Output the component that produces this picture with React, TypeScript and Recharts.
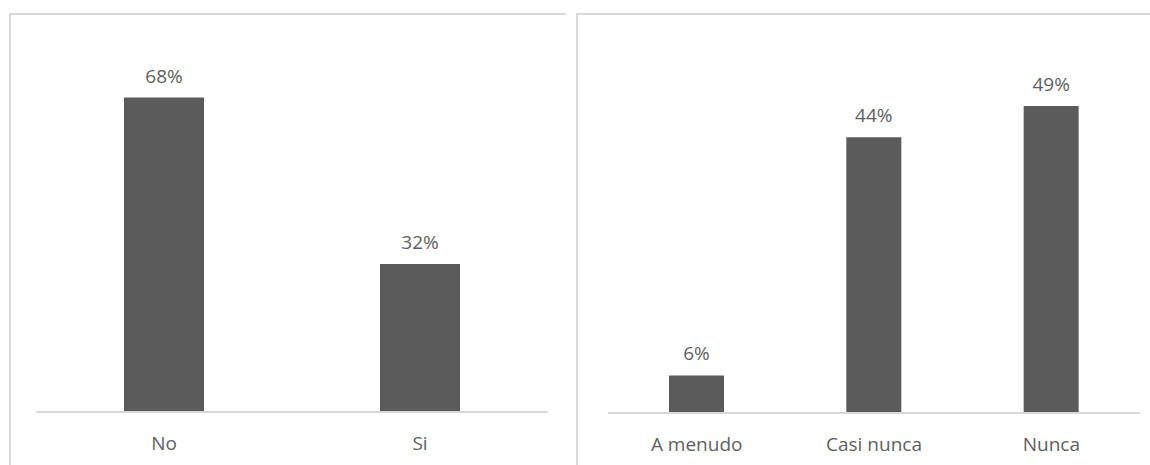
import React from "react";
import { BarChart, Bar, XAxis, YAxis, LabelList } from "recharts";

const leftCategories = ["No", "Si"];
const leftValues = [68, 32];
const rightCategories = ["A menudo", "Casi nunca", "Nunca"];
const rightValues = [6, 44, 49];

const leftData = leftCategories.map((c, i) => ({ name: c, value: leftValues[i] }));
const rightData = rightCategories.map((c, i) => ({ name: c, value: rightValues[i] }));

const FONT = "'Open Sans', 'Noto Sans', sans-serif";
const TEXT = "#5f5f5f";
const BAR = "#5b5b5b";
const GRID = "#d9d9d9";
const FS = 19;

const pct = (v: any) => `${v}%`;

function Panel({ data, left, top, width, height, margin, yMax, barSize }: any) {
  return (
    <div
      style={{
        position: "absolute",
        left,
        top,
        width,
        height,
        borderTop: `2px solid ${GRID}`,
        borderLeft: `2px solid ${GRID}`,
        boxSizing: "border-box",
      }}
    >
      <div style={{ position: "absolute", left: -2, top: -2 }}>
        <BarChart width={width} height={height} data={data} margin={margin}>
          <YAxis hide domain={[0, yMax]} />
          <XAxis
            dataKey="name"
            axisLine={{ stroke: GRID, strokeWidth: 2 }}
            tickLine={false}
            tickMargin={19}
            tick={{ fill: TEXT, fontSize: FS, fontFamily: FONT }}
            interval={0}
          />
          <Bar dataKey="value" fill={BAR} barSize={barSize} isAnimationActive={false}>
            <LabelList
              dataKey="value"
              position="top"
              offset={15}
              formatter={pct}
              style={{ fill: TEXT, fontSize: FS, fontFamily: FONT }}
            />
          </Bar>
        </BarChart>
      </div>
    </div>
  );
}

export default function App() {
  return (
    <div style={{ position: "absolute", left: 0, top: 0, width: 1150, height: 465, background: "#fff", overflow: "hidden" }}>
      <Panel
        data={leftData}
        left={9}
        top={13}
        width={557}
        height={452}
        margin={{ top: 29, right: 18, left: 27, bottom: 23 }}
        yMax={80}
        barSize={80}
      />
      <Panel
        data={rightData}
        left={576}
        top={13}
        width={574}
        height={452}
        margin={{ top: 24, right: 10, left: 32, bottom: 22 }}
        yMax={60}
        barSize={55}
      />
    </div>
  );
}
